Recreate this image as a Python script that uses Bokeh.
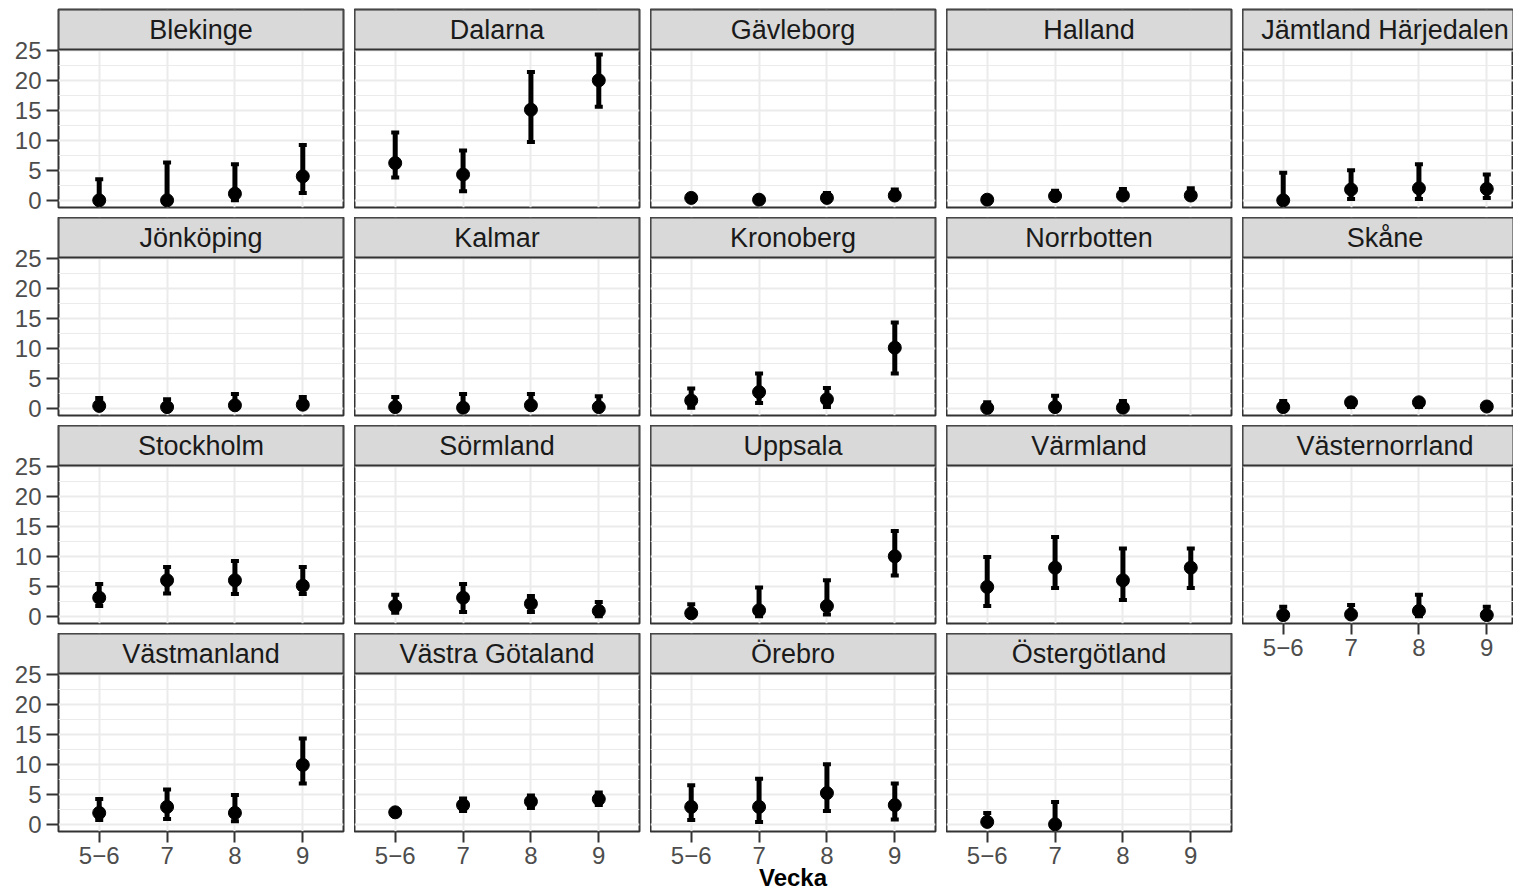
from bokeh.plotting import figure
from bokeh.models import (ColumnDataSource, Range1d, FixedTicker, Whisker, TeeHead,
                          BoxAnnotation, Label)
from bokeh.layouts import row, column
from bokeh.embed import file_html
from bokeh.resources import INLINE

# ---------------- data ----------------
weeks = ["5\u22126", "7", "8", "9"]
x_title = "Vecka"

regions = [
    "Blekinge", "Dalarna", "Gävleborg", "Halland", "Jämtland Härjedalen",
    "Jönköping", "Kalmar", "Kronoberg", "Norrbotten", "Skåne",
    "Stockholm", "Sörmland", "Uppsala", "Värmland", "Västernorrland",
    "Västmanland", "Västra Götaland", "Örebro", "Östergötland",
]

estimate = [
    [0.0, 0.0, 1.1, 4.0],
    [6.2, 4.3, 15.1, 20.0],
    [0.4, 0.1, 0.4, 0.8],
    [0.1, 0.7, 0.8, 0.8],
    [0.0, 1.8, 2.0, 1.9],
    [0.4, 0.2, 0.5, 0.6],
    [0.2, 0.1, 0.5, 0.2],
    [1.3, 2.7, 1.5, 10.1],
    [0.05, 0.2, 0.1, None],
    [0.2, 1.0, 1.0, 0.3],
    [3.1, 6.0, 6.0, 5.1],
    [1.7, 3.1, 2.1, 0.9],
    [0.5, 1.0, 1.7, 10.0],
    [4.9, 8.1, 6.0, 8.1],
    [0.2, 0.3, 0.9, 0.2],
    [1.9, 2.9, 1.9, 9.9],
    [2.0, 3.2, 3.8, 4.2],
    [2.9, 2.9, 5.2, 3.2],
    [0.4, 0.0, None, None],
]

lower = [
    [0.0, 0.0, 0.0, 1.2],
    [3.8, 1.5, 9.7, 15.6],
    [0.1, 0.0, 0.1, 0.4],
    [0.0, 0.3, 0.4, 0.3],
    [0.0, 0.2, 0.2, 0.4],
    [0.0, 0.0, 0.1, 0.2],
    [0.0, 0.0, 0.1, 0.0],
    [0.1, 0.9, 0.2, 5.8],
    [0.0, 0.0, 0.0, None],
    [0.0, 0.2, 0.2, 0.1],
    [1.7, 3.8, 3.7, 3.7],
    [0.6, 0.7, 0.7, 0.0],
    [0.0, 0.0, 0.3, 6.8],
    [1.7, 4.7, 2.7, 4.7],
    [0.0, 0.0, 0.0, 0.0],
    [0.7, 0.9, 0.5, 6.8],
    [1.7, 2.2, 2.7, 3.2],
    [0.7, 0.4, 2.2, 0.8],
    [0.0, 0.0, None, None],
]

upper = [
    [3.5, 6.3, 6.0, 9.2],
    [11.3, 8.3, 21.4, 24.3],
    [0.8, 0.5, 1.2, 1.8],
    [0.5, 1.6, 1.9, 2.0],
    [4.6, 5.0, 6.0, 4.3],
    [1.7, 1.5, 2.4, 1.9],
    [1.9, 2.4, 2.4, 2.0],
    [3.3, 5.8, 3.4, 14.3],
    [1.0, 2.1, 1.2, None],
    [1.2, 1.5, 1.5, 0.5],
    [5.4, 8.2, 9.2, 8.2],
    [3.6, 5.4, 3.4, 2.4],
    [2.0, 4.8, 6.0, 14.2],
    [9.9, 13.2, 11.3, 11.3],
    [1.6, 1.9, 3.6, 1.6],
    [4.2, 5.8, 4.9, 14.3],
    [2.3, 4.3, 4.8, 5.3],
    [6.5, 7.6, 10.0, 6.8],
    [1.9, 3.7, None, None],
]

y_ticks = [0, 5, 10, 15, 20, 25]
y_minor = [2.5, 7.5, 12.5, 17.5, 22.5]

# ---------------- layout / style ----------------
FONT = "Liberation Sans"
NCOL = 5
PANEL_W = 285
PANEL_H = 158
STRIP_H = 40
HGAP = 11
VGAP = 10
TOP = 9
LEFT = 58
AX_H = 38
AX_LAB_H = 65
LAST_W = 271
X_LO, X_HI = 0.4, len(weeks) + 0.6
PX_PER_X = PANEL_W / (X_HI - X_LO)
PX_PER_Y = 6.0
Y_LO = -1.2
Y_PANEL_TOP = Y_LO + PANEL_H / PX_PER_Y
Y_HI = Y_PANEL_TOP + STRIP_H / PX_PER_Y
GRID = "#ebebeb"
BORDER = "#333333"

xs = [i + 1 for i in range(len(weeks))]
n = len(regions)


def make_panel(i):
    c = i % NCOL
    r = i // NCOL
    first = c == 0
    last = c == NCOL - 1
    bottom = i + NCOL >= n
    frame_w = LAST_W if last else PANEL_W
    bl = LEFT if first else 0
    br = 0 if last else HGAP
    bt = TOP if r == 0 else 0
    if bottom:
        bb = AX_LAB_H if c == 2 else AX_H
    else:
        bb = VGAP
    x_hi = X_LO + frame_w / PX_PER_X

    p = figure(width=bl + frame_w + br, height=bt + STRIP_H + PANEL_H + bb,
               x_range=Range1d(X_LO, x_hi), y_range=Range1d(Y_LO, Y_HI),
               x_axis_location="below" if bottom else None,
               y_axis_location="left" if first else None,
               toolbar_location=None, output_backend="svg",
               min_border_left=bl, min_border_right=br,
               min_border_top=bt, min_border_bottom=bb,
               background_fill_color="white", border_fill_color="white",
               outline_line_color=BORDER, outline_line_width=2)

    p.xgrid.ticker = FixedTicker(ticks=xs)
    p.xgrid.grid_line_color = GRID
    p.xgrid.grid_line_width = 2
    p.ygrid.ticker = FixedTicker(ticks=y_ticks, minor_ticks=y_minor)
    p.ygrid.grid_line_color = GRID
    p.ygrid.grid_line_width = 2
    p.ygrid.minor_grid_line_color = GRID
    p.ygrid.minor_grid_line_width = 1

    px, pe, pl, pu = [], [], [], []
    for k, x in enumerate(xs):
        if estimate[i][k] is None:
            continue
        px.append(x)
        pe.append(estimate[i][k])
        pl.append(lower[i][k])
        pu.append(upper[i][k])
    src = ColumnDataSource(dict(x=px, est=pe, lo=pl, hi=pu))

    wh = Whisker(source=src, base="x", lower="lo", upper="hi",
                 line_width=5, line_color="black",
                 upper_head=TeeHead(size=8, line_width=4, line_color="black"),
                 lower_head=TeeHead(size=8, line_width=4, line_color="black"))
    p.add_layout(wh)
    p.scatter("x", "est", source=src, size=13, color="black")

    # facet strip
    strip = BoxAnnotation(bottom=Y_PANEL_TOP, fill_color="#d9d9d9", fill_alpha=1.0,
                          line_color=BORDER, line_width=2, line_alpha=1.0)
    p.add_layout(strip)
    p.add_layout(Label(x=(X_LO + X_HI) / 2, y=(Y_PANEL_TOP + Y_HI) / 2,
                       text=regions[i], text_align="center", text_baseline="middle",
                       text_font=FONT, text_font_size="27px", text_color="#1a1a1a"))

    if first:
        ax = p.yaxis[0]
        ax.ticker = FixedTicker(ticks=y_ticks)
        ax.axis_line_color = None
        ax.major_tick_line_color = BORDER
        ax.major_tick_line_width = 2
        ax.major_tick_out = 12
        ax.major_tick_in = 0
        ax.minor_tick_line_color = None
        ax.major_label_text_font = FONT
        ax.major_label_text_font_size = "24px"
        ax.major_label_text_color = "#4d4d4d"
        ax.major_label_standoff = 5
    if bottom:
        ax = p.xaxis[0]
        ax.ticker = FixedTicker(ticks=xs)
        ax.major_label_overrides = {x: w for x, w in zip(xs, weeks)}
        ax.axis_line_color = None
        ax.major_tick_line_color = BORDER
        ax.major_tick_line_width = 2
        ax.major_tick_out = 11
        ax.major_tick_in = 0
        ax.minor_tick_line_color = None
        ax.major_label_text_font = FONT
        ax.major_label_text_font_size = "24px"
        ax.major_label_text_color = "#4d4d4d"
        ax.major_label_standoff = 4
        if c == 2:
            ax.axis_label = x_title
            ax.axis_label_text_font = FONT
            ax.axis_label_text_font_size = "24px"
            ax.axis_label_text_font_style = "bold"
            ax.axis_label_text_color = "black"
            ax.axis_label_standoff = -3
    return p


cols = []
for c in range(NCOL):
    cols.append(column(*[make_panel(i) for i in range(c, n, NCOL)]))

layout = row(*cols)
open("out.html", "w").write(file_html(layout, INLINE, title="Vecka"))
